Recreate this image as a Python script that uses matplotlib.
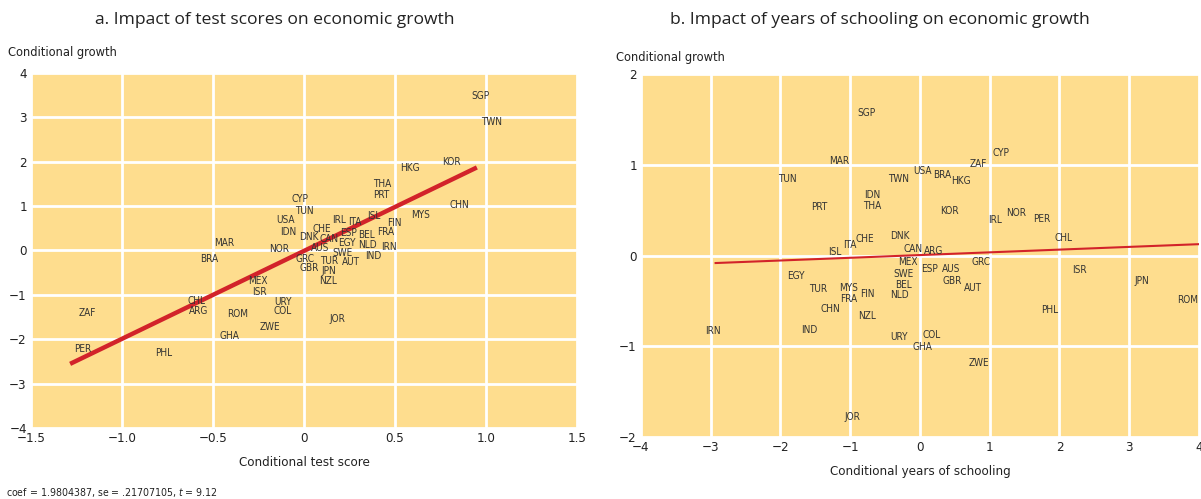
import matplotlib.pyplot as plt

plt.rcParams['font.family'] = ['DejaVu Sans']
plt.rcParams['font.stretch'] = 'condensed'

# ----- Panel a: test scores -----
paises_a = ["SGP", "TWN", "KOR", "HKG", "THA", "PRT", "CHN", "MYS", "CYP", "TUN",
            "USA", "IDN", "IRL", "ITA", "ISL", "FIN", "FRA", "CHE", "DNK", "CAN",
            "ESP", "BEL", "EGY", "NLD", "AUS", "SWE", "IRN", "IND", "NOR", "GRC",
            "GBR", "TUR", "AUT", "JPN", "NZL", "MAR", "BRA", "MEX", "ISR", "CHL",
            "ARG", "URY", "COL", "ROM", "ZWE", "GHA", "JOR", "ZAF", "PER", "PHL"]
score_a = [0.967, 1.033, 0.813, 0.582, 0.429, 0.423, 0.852, 0.643, -0.022, 0.005,
           -0.099, -0.088, 0.192, 0.280, 0.385, 0.495, 0.451, 0.099, 0.027, 0.137,
           0.242, 0.341, 0.236, 0.346, 0.088, 0.209, 0.467, 0.379, -0.137, 0.005,
           0.027, 0.137, 0.258, 0.137, 0.132, -0.440, -0.522, -0.253, -0.247, -0.593,
           -0.577, -0.115, -0.115, -0.363, -0.187, -0.412, 0.181, -1.192, -1.214, -0.769]
growth_a = [3.48, 2.89, 1.99, 1.86, 1.50, 1.25, 1.02, 0.80, 1.16, 0.89,
            0.69, 0.42, 0.69, 0.64, 0.78, 0.62, 0.42, 0.48, 0.30, 0.26,
            0.39, 0.35, 0.17, 0.12, 0.06, -0.06, 0.08, -0.12, 0.03, -0.19,
            -0.39, -0.24, -0.26, -0.46, -0.69, 0.17, -0.19, -0.69, -0.93, -1.14,
            -1.36, -1.16, -1.36, -1.43, -1.72, -1.93, -1.54, -1.41, -2.22, -2.31]
coef_a = 1.9804387
corte_a = -0.01
rango_a = [-1.285, 0.95]

# ----- Panel b: years of schooling -----
paises_b = ["SGP", "MAR", "CYP", "ZAF", "TUN", "TWN", "USA", "BRA", "HKG", "IDN",
            "THA", "PRT", "KOR", "IRL", "NOR", "PER", "CHL", "DNK", "CHE", "ITA",
            "ISL", "CAN", "ARG", "MEX", "ESP", "AUS", "GRC", "SWE", "BEL", "NLD",
            "GBR", "AUT", "EGY", "TUR", "MYS", "FRA", "FIN", "CHN", "NZL", "IND",
            "URY", "COL", "GHA", "ZWE", "IRN", "ISR", "JPN", "ROM", "PHL", "JOR"]
school_b = [-0.77, -1.16, 1.16, 0.83, -1.90, -0.30, 0.04, 0.32, 0.59, -0.69,
            -0.69, -1.45, 0.42, 1.08, 1.38, 1.75, 2.06, -0.29, -0.79, -1.00,
            -1.22, -0.10, 0.20, -0.17, 0.13, 0.44, 0.87, -0.23, -0.24, -0.30,
            0.46, 0.76, -1.78, -1.46, -1.03, -1.02, -0.76, -1.28, -0.76, -1.59,
            -0.30, 0.16, 0.03, 0.85, -2.97, 2.29, 3.18, 3.84, 1.86, -0.97]
growth_b = [1.57, 1.04, 1.13, 1.01, 0.84, 0.84, 0.93, 0.89, 0.82, 0.67,
            0.55, 0.53, 0.49, 0.39, 0.47, 0.40, 0.19, 0.21, 0.18, 0.12,
            0.04, 0.07, 0.05, -0.07, -0.15, -0.15, -0.07, -0.20, -0.32, -0.43,
            -0.28, -0.36, -0.23, -0.37, -0.36, -0.48, -0.42, -0.59, -0.67, -0.82,
            -0.90, -0.88, -1.01, -1.18, -0.83, -0.16, -0.28, -0.49, -0.60, -1.78]
coef_b = 0.030
corte_b = 0.005
rango_b = [-2.93, 4.0]

fondo = "#FEDD8E"
rojo = "#D2232A"
texto = "#333333"

fig = plt.figure(figsize=(12.01, 4.99), dpi=100)
axA = fig.add_axes([0.0258, 0.1423, 0.4546, 0.7114])
axB = fig.add_axes([0.5337, 0.1242, 0.4646, 0.7275])

def preparar(ax, xlim, ylim, xticks, xlabels, yticks, ylabels):
    ax.set_facecolor(fondo)
    ax.set_xlim(xlim)
    ax.set_ylim(ylim)
    ax.set_xticks(xticks)
    ax.set_xticklabels(xlabels)
    ax.set_yticks(yticks)
    ax.set_yticklabels(ylabels)
    ax.grid(True, color="white", linewidth=2)
    ax.set_axisbelow(True)
    for s in ax.spines.values():
        s.set_visible(False)
    ax.tick_params(length=0, labelsize=9.5, colors="#222222", pad=3)

preparar(axA, (-1.5, 1.5), (-4, 4),
         [-1.5, -1.0, -0.5, 0, 0.5, 1.0, 1.5],
         ["\u22121.5", "\u22121.0", "\u22120.5", "0", "0.5", "1.0", "1.5"],
         range(-4, 5), ["\u22124", "\u22123", "\u22122", "\u22121", "0", "1", "2", "3", "4"])
preparar(axB, (-4, 4), (-2, 2),
         range(-4, 5), ["\u22124", "\u22123", "\u22122", "\u22121", "0", "1", "2", "3", "4"],
         [-2, -1, 0, 1, 2], ["\u22122", "\u22121", "0", "1", "2"])

for p, x, y in zip(paises_a, score_a, growth_a):
    axA.text(x, y, p, fontsize=7.2, ha="center", va="center", color=texto)
axA.plot(rango_a, [coef_a * v + corte_a for v in rango_a], color=rojo, linewidth=3.2,
         solid_capstyle="butt")

for p, x, y in zip(paises_b, school_b, growth_b):
    axB.text(x, y, p, fontsize=7.2, ha="center", va="center", color=texto)
axB.plot(rango_b, [coef_b * v + corte_b for v in rango_b], color=rojo, linewidth=1.5)

axA.set_xlabel("Conditional test score", fontsize=9.5, color="#222222", labelpad=8)
axB.set_xlabel("Conditional years of schooling", fontsize=9.5, color="#222222", labelpad=8)

fig.text(0.0067, 0.895, "Conditional growth", fontsize=9.2, color="#222222", va="center")
fig.text(0.513, 0.885, "Conditional growth", fontsize=9.2, color="#222222", va="center")

fig.text(0.229, 0.96, "a. Impact of test scores on economic growth", fontsize=12.6,
         ha="center", va="center", color="#222222", family="Open Sans", stretch="normal")
fig.text(0.733, 0.96, "b. Impact of years of schooling on economic growth", fontsize=12.6,
         ha="center", va="center", color="#222222", family="Open Sans", stretch="normal")

fig.text(0.005, 0.014, "coef = 1.9804387, se = .21707105, $t$ = 9.12", fontsize=7.6,
         color="#222222", va="center")

plt.savefig("out.png", dpi=100)
